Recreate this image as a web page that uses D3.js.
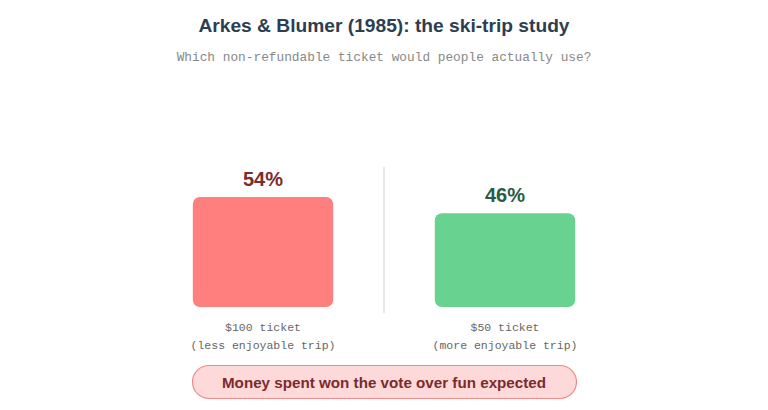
<!DOCTYPE html>
<html><head><meta charset="utf-8">
<script src="https://cdn.jsdelivr.net/npm/d3@7"></script>
<style>body{margin:0;background:#fff}svg{display:block}</style>
</head><body>
<svg id="c" width="768" height="410"></svg>
<script>
const categories = ["$100 ticket", "$50 ticket"];
const subLabels = ["(less enjoyable trip)", "(more enjoyable trip)"];
const values = [54, 46];
const barColors = ["#ff7f7f", "#68d391"];
const labelColors = ["#7b2b2b", "#2a5c45"];

const svg = d3.select("#c");
const W = 768;
const mono = "'Courier New', 'Liberation Mono', monospace";
const sans = "'Liberation Sans', Arial, Helvetica, sans-serif";

svg.append("text").attr("x", W/2).attr("y", 32).attr("text-anchor", "middle")
  .attr("font-family", sans).attr("font-weight", "bold").attr("font-size", 19.2)
  .attr("fill", "#2c3e50").text("Arkes & Blumer (1985): the ski-trip study");
svg.append("text").attr("x", W/2).attr("y", 61).attr("text-anchor", "middle")
  .attr("font-family", mono).attr("font-size", 12.8)
  .attr("fill", "#888").text("Which non-refundable ticket would people actually use?");

const x = d3.scaleBand().domain(categories).range([142, 626]).paddingInner(0.42).paddingOuter(0.21);
const y = d3.scaleLinear().domain([0, 100]).range([307, 103.3]);

// divider
svg.append("line").attr("x1", W/2).attr("x2", W/2).attr("y1", 167).attr("y2", 313)
  .attr("stroke", "#e5e7eb").attr("stroke-width", 2);

const g = svg.selectAll("g.bar").data(categories).join("g").attr("class", "bar");
g.append("rect")
  .attr("x", d => x(d)).attr("width", x.bandwidth())
  .attr("y", (d, i) => y(values[i])).attr("height", (d, i) => y(0) - y(values[i]))
  .attr("rx", 7).attr("fill", (d, i) => barColors[i]);
g.append("text")
  .attr("x", d => x(d) + x.bandwidth()/2).attr("y", (d, i) => y(values[i]) - 11)
  .attr("text-anchor", "middle").attr("font-family", sans).attr("font-weight", "bold")
  .attr("font-size", 20).attr("fill", (d, i) => labelColors[i])
  .text((d, i) => values[i] + "%");
g.append("text")
  .attr("x", d => x(d) + x.bandwidth()/2).attr("y", 331)
  .attr("text-anchor", "middle").attr("font-family", mono).attr("font-size", 11.5)
  .attr("fill", "#666").text(d => d);
g.append("text")
  .attr("x", d => x(d) + x.bandwidth()/2).attr("y", 349)
  .attr("text-anchor", "middle").attr("font-family", mono).attr("font-size", 11.5)
  .attr("fill", "#666").text((d, i) => subLabels[i]);

// callout pill
svg.append("rect").attr("x", 192.5).attr("y", 365.5).attr("width", 384).attr("height", 33)
  .attr("rx", 16.5).attr("fill", "#fdd9d9").attr("stroke", "#f08a8a").attr("stroke-width", 1.2);
svg.append("text").attr("x", W/2).attr("y", 387.5).attr("text-anchor", "middle")
  .attr("font-family", sans).attr("font-weight", "bold").attr("font-size", 15.2)
  .attr("fill", "#7b2b2b").text("Money spent won the vote over fun expected");
</script>
</body></html>
